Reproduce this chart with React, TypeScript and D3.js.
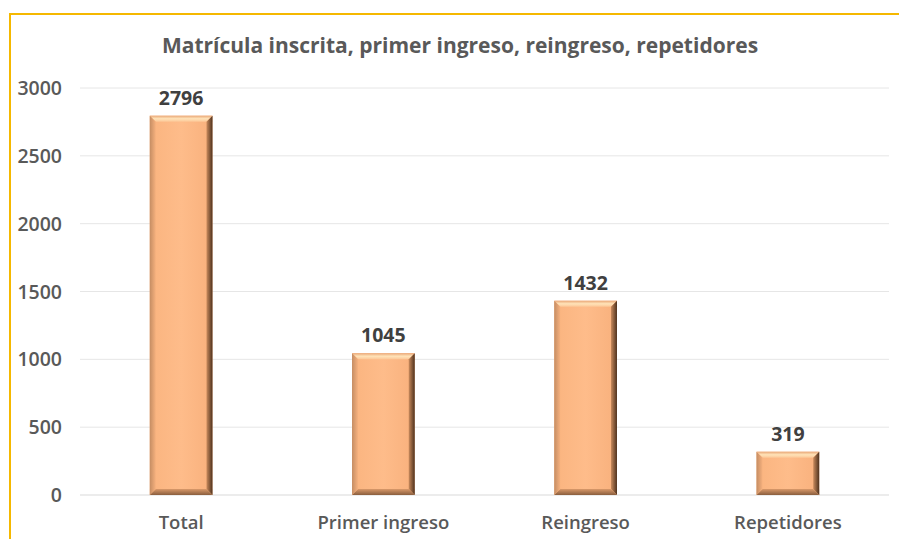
import React from "react";
import * as d3 from "d3";

const categories = ["Total", "Primer ingreso", "Reingreso", "Repetidores"];
const values = [2796, 1045, 1432, 319];
const yTicks = [0, 500, 1000, 1500, 2000, 2500, 3000];
const title = "Matrícula inscrita, primer ingreso, reingreso, repetidores";

const W = 899;
const H = 539;
const FONT = "'Open Sans', Lato, 'Liberation Sans', sans-serif";

export default function App() {
  const left = 80;
  const right = 889;
  const top = 88;
  const bottom = 495;
  const x = d3.scaleBand<string>().domain(categories).range([left, right]).paddingInner(0.69).paddingOuter(0.345);
  const y = d3.scaleLinear().domain([0, 3000]).range([bottom, top]);
  const bw = x.bandwidth();
  const bev = 6;

  return (
    <div style={{ position: "absolute", left: 0, top: 0 }}>
      <svg width={W} height={H} style={{ display: "block", fontFamily: FONT }}>
        <defs>
          <linearGradient id="faceG" x1="0" x2="1" y1="0" y2="0">
            <stop offset="0" stopColor="#FAB47F" />
            <stop offset="0.5" stopColor="#FEBC8A" />
            <stop offset="1" stopColor="#F8B07C" />
          </linearGradient>
          <linearGradient id="topG" x1="0" x2="0" y1="0" y2="1">
            <stop offset="0" stopColor="#E9A777" />
            <stop offset="0.5" stopColor="#FFE3B8" />
            <stop offset="1" stopColor="#FCC797" />
          </linearGradient>
          <linearGradient id="rightG" x1="0" x2="1" y1="0" y2="0">
            <stop offset="0" stopColor="#C98A5C" />
            <stop offset="1" stopColor="#4E321E" />
          </linearGradient>
          <linearGradient id="bottomG" x1="0" x2="0" y1="0" y2="1">
            <stop offset="0" stopColor="#D9996A" />
            <stop offset="1" stopColor="#8A5E3E" />
          </linearGradient>
          <linearGradient id="leftG" x1="0" x2="1" y1="0" y2="0">
            <stop offset="0" stopColor="#C58D63" />
            <stop offset="1" stopColor="#F6B17E" />
          </linearGradient>
        </defs>
        <rect x={0} y={0} width={W} height={H} fill="#ffffff" />
        <line x1={9} x2={W} y1={14} y2={14} stroke="#F5B800" strokeWidth={2} />
        <line x1={10} x2={10} y1={14} y2={H} stroke="#F5B800" strokeWidth={2} />
        <text x={460} y={53} textAnchor="middle" fontSize={21} fontWeight="bold" fill="#595959">
          {title}
        </text>
        {yTicks.map((t) => (
          <g key={t}>
            <line x1={left} x2={right} y1={y(t)} y2={y(t)} stroke={t === 0 ? "#D9D9D9" : "#E6E6E6"} strokeWidth={1} />
            <text x={62} y={y(t) + 7} textAnchor="end" fontSize={19.5} fontWeight="600" fill="#595959">
              {t}
            </text>
          </g>
        ))}
        {categories.map((c, i) => {
          const x0 = x(c)!;
          const x1 = x0 + bw;
          const y0 = y(values[i]);
          const y1 = y(0);
          const b = Math.min(bev, (y1 - y0) / 2);
          return (
            <g key={c}>
              <rect x={x0} y={y0} width={bw} height={y1 - y0} fill="url(#faceG)" />
              <polygon points={`${x0},${y0} ${x1},${y0} ${x1 - b},${y0 + b} ${x0 + b},${y0 + b}`} fill="url(#topG)" />
              <polygon points={`${x1},${y0} ${x1},${y1} ${x1 - b},${y1 - b} ${x1 - b},${y0 + b}`} fill="url(#rightG)" />
              <polygon points={`${x0},${y1} ${x1},${y1} ${x1 - b},${y1 - b} ${x0 + b},${y1 - b}`} fill="url(#bottomG)" />
              <polygon points={`${x0},${y0} ${x0 + b},${y0 + b} ${x0 + b},${y1 - b} ${x0},${y1}`} fill="url(#leftG)" />
              <text x={x0 + bw / 2} y={y0 - 11} textAnchor="middle" fontSize={19.5} fontWeight="bold" fill="#404040">
                {values[i]}
              </text>
              <text x={x0 + bw / 2} y={529} textAnchor="middle" fontSize={18.5} fontWeight="600" fill="#595959">
                {c}
              </text>
            </g>
          );
        })}
      </svg>
    </div>
  );
}
